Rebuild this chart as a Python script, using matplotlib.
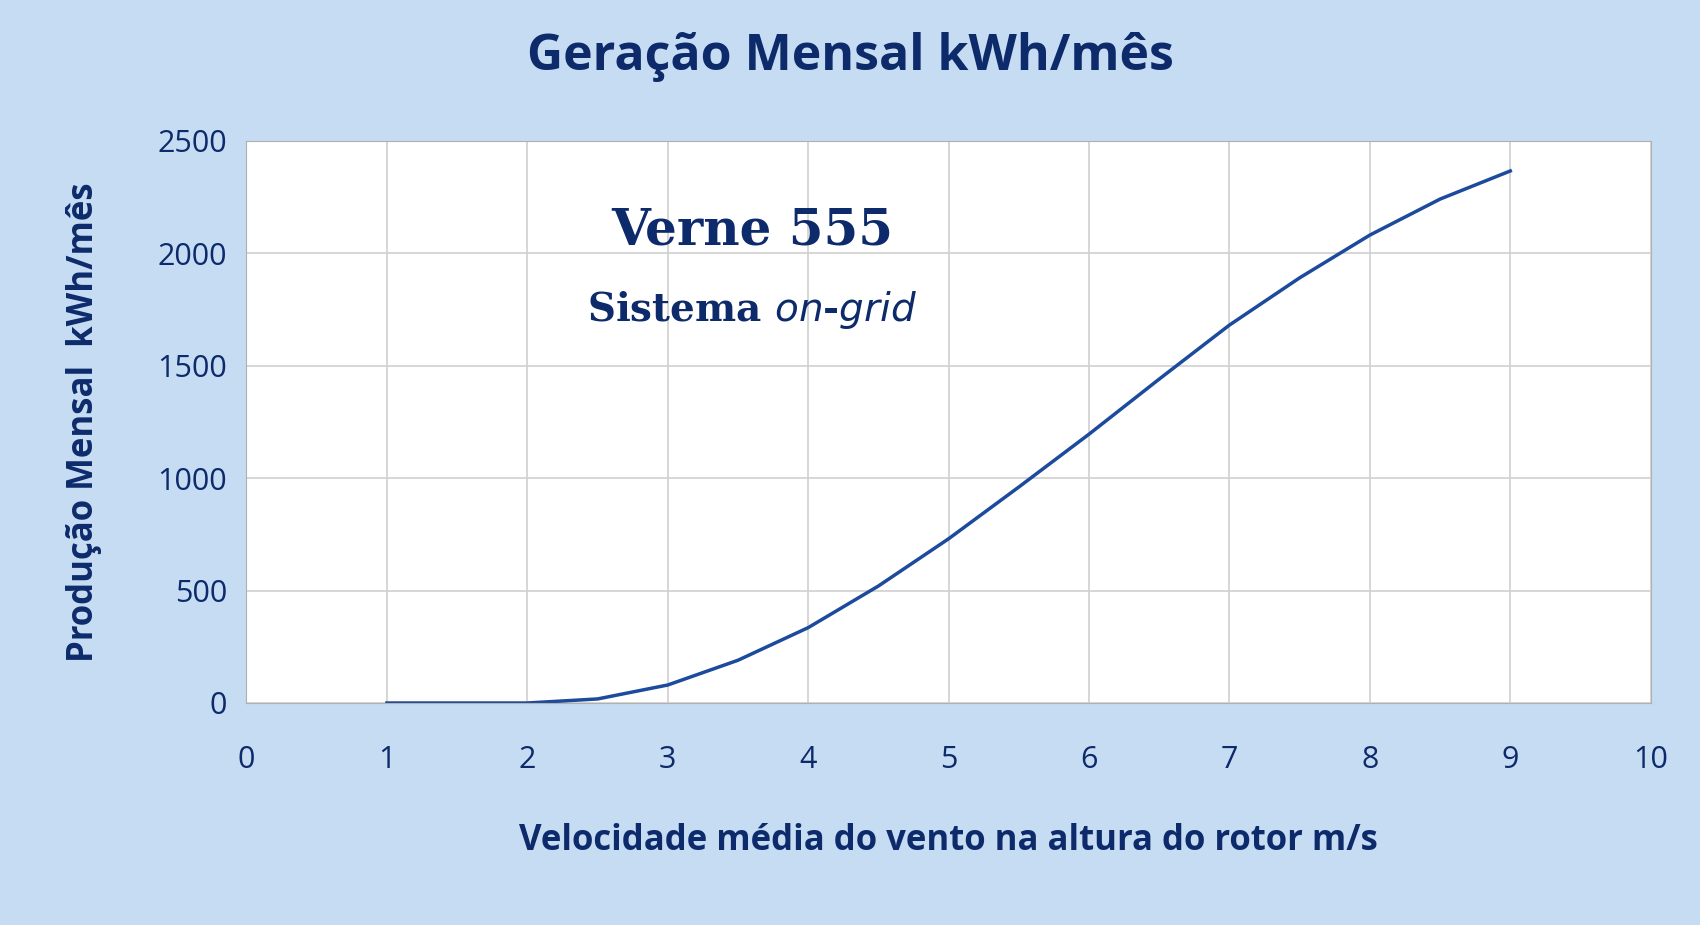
import matplotlib
matplotlib.use("Agg")
import matplotlib.pyplot as plt

speed = [1, 1.5, 2, 2.5, 3, 3.5, 4, 4.5, 5, 5.5, 6, 6.5, 7, 7.5, 8, 8.5, 9]
energy = [0, 0, 0, 18, 80, 190, 335, 520, 730, 960, 1195, 1440, 1680, 1890, 2080, 2240, 2365]
xticks = list(range(0, 11))
yticks = [0, 500, 1000, 1500, 2000, 2500]

navy = "#0d2a6b"
bg = "#c6dcf3"
plt.rcParams['font.family'] = ['Open Sans', 'DejaVu Sans']

fig = plt.figure(figsize=(17, 9.25), dpi=100, facecolor=bg)
ax = fig.add_axes([0.145, 0.24, 0.826, 0.608])
ax.set_facecolor("white")
ax.plot(speed, energy, color="#1c4a9c", lw=2.5)
ax.set_xlim(0, 10)
ax.set_ylim(0, 2500)
ax.set_xticks(xticks)
ax.set_yticks(yticks)
ax.grid(True, color="#d0d0d0", lw=1.2)
for s in ax.spines.values():
    s.set_color("#b0b0b0")
ax.tick_params(length=0, labelsize=22, labelcolor=navy, pad=14)
ax.tick_params(axis='x', pad=30)
ax.set_xlabel("Velocidade média do vento na altura do rotor m/s", fontsize=25,
              fontweight="bold", color=navy, labelpad=35)
ax.set_ylabel("Produção Mensal  kWh/mês", fontsize=25, fontweight="bold",
              color=navy, labelpad=40)
fig.suptitle("Geração Mensal kWh/mês", fontsize=36, fontweight="bold",
             color=navy, y=0.965)
ax.text(0.36, 0.815, "Verne 555", transform=ax.transAxes, ha="center",
        fontsize=36, fontweight="bold", color=navy, family="DejaVu Serif")
ax.text(0.36, 0.68, "Sistema $\\it{on}$-$\\it{grid}$", transform=ax.transAxes,
        ha="center", fontsize=28, fontweight="bold", color=navy, family="DejaVu Serif")
fig.savefig("out.png", dpi=100, facecolor=bg)
